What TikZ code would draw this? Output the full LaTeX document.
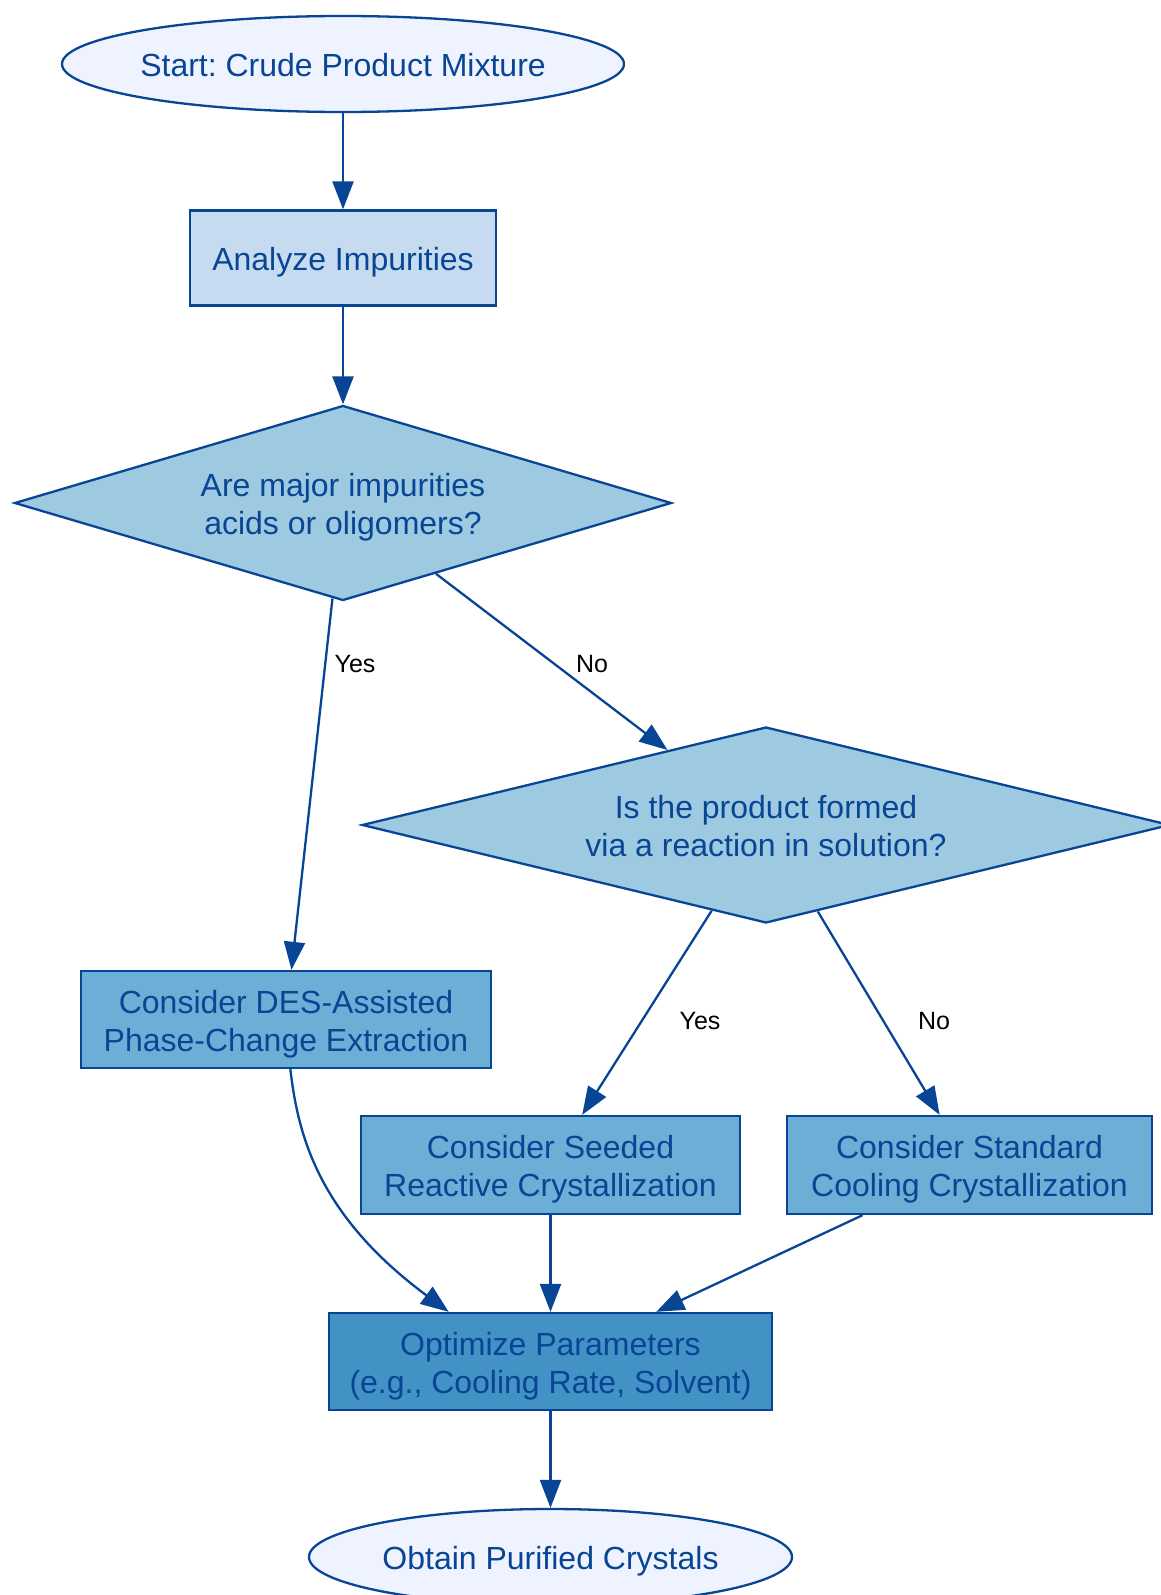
\documentclass[tikz,border=0pt]{standalone}
\usepackage{fontspec}
\setmainfont{Liberation Sans}
\frenchspacing
\usetikzlibrary{shapes.geometric,arrows.meta}
\definecolor{ink}{HTML}{084594}
\definecolor{fstart}{HTML}{EFF3FF}
\definecolor{fana}{HTML}{C6DBEF}
\definecolor{fdia}{HTML}{9ECAE1}
\definecolor{fbox}{HTML}{6BAED6}
\definecolor{fopt}{HTML}{4292C6}
\newcommand{\nt}[1]{\raisebox{-5pt}[\height][\depth]{\begin{tabular}{@{}c@{}}#1\end{tabular}}}
\tikzset{
  base/.style={draw=ink, line width=2.3pt, text=ink, font=\fontsize{32}{38}\selectfont, inner sep=0pt},
  term/.style={base, ellipse, fill=fstart},
  proc/.style={base, rectangle, fill=fbox},
  decide/.style={base, diamond, fill=fdia, aspect=3.4},
  conn/.style={draw=ink, line width=2.3pt, -{Triangle[length=28pt,width=21pt]}},
  elabel/.style={font=\fontsize{25}{30}\selectfont, text=black, inner sep=0pt}
}
\begin{document}
\begin{tikzpicture}[x=1pt,y=-1pt]
\useasboundingbox (0,0) rectangle (1161,1595);
\fill[white] (0,0) rectangle (1161,1595);

\node[term, inner xsep=-20pt, minimum width=562, minimum height=96] (start) at (343,64) {\nt{Start: Crude Product Mixture}};
\node[proc, fill=fana, minimum width=306, minimum height=95] (ana) at (343,258) {\nt{Analyze Impurities}};
\node[decide, minimum width=657, minimum height=195] (d1) at (343,503) {\nt{Are major impurities\\acids or oligomers?}};
\node[decide, minimum width=808, minimum height=196] (d2) at (766,825) {\nt{Is the product formed\\via a reaction in solution?}};
\node[proc, minimum width=410, minimum height=97] (des) at (286,1019.5) {\nt{Consider DES-Assisted\\Phase-Change Extraction}};
\node[proc, minimum width=379, minimum height=98] (seed) at (550.5,1165) {\nt{Consider Seeded\\Reactive Crystallization}};
\node[proc, minimum width=365, minimum height=98] (std) at (969.5,1165) {\nt{Consider Standard\\Cooling Crystallization}};
\node[proc, fill=fopt, minimum width=443, minimum height=97] (opt) at (550.5,1361.5) {\nt{Optimize Parameters\\(e.g., Cooling Rate, Solvent)}};
\node[term, minimum width=483, minimum height=96] (end) at (550.5,1557) {\nt{Obtain Purified Crystals}};

\draw[conn] (start) -- (ana);
\draw[conn] (ana) -- (d1);
\draw[conn] (d1) -- (des);
\draw[conn] (d1) -- (d2);
\draw[conn] (d2) -- (seed);
\draw[conn] (d2) -- (std);
\draw[conn] (des.-85) .. controls (298,1135) and (318,1215) .. (opt.154);
\draw[conn] (seed) -- (opt);
\draw[conn] (std) -- (opt);
\draw[conn] (opt) -- (end);

\node[elabel] (l1) at (355,664) {Yes};
\node[elabel] (l2) at (592,664) {No};
\node[elabel] (l3) at (700,1021) {Yes};
\node[elabel] (l4) at (934,1021) {No};
\end{tikzpicture}
\end{document}
